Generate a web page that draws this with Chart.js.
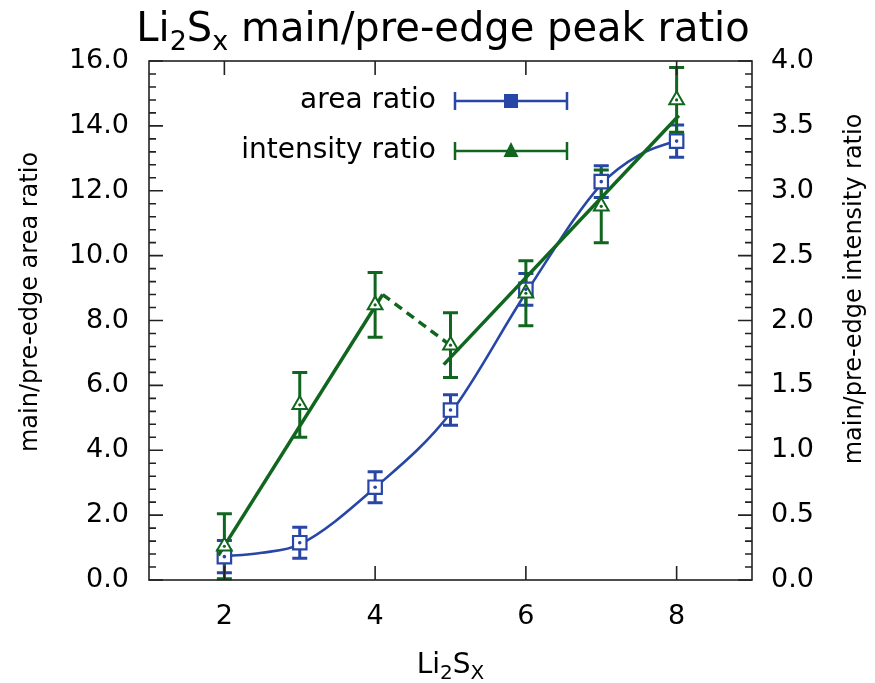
<!DOCTYPE html>
<html>
<head>
<meta charset="utf-8">
<script src="https://cdn.jsdelivr.net/npm/chart.js@4.4.1/dist/chart.umd.min.js"></script>
<style>
html, body { margin: 0; padding: 0; background: #fff; }
#wrap { width: 875px; height: 683px; }
</style>
</head>
<body>
<div id="wrap"><canvas id="ratioChart" width="875" height="683"></canvas></div>
<script>
// measured points, x = sulfur count in Li2Sx
const sulfurX = [2, 3, 4, 5, 6, 7, 8];
const areaRatio = [0.72, 1.15, 2.86, 5.24, 8.96, 12.28, 13.53];
const areaErr = [0.50, 0.48, 0.48, 0.47, 0.49, 0.49, 0.50];
const intensityRatio = [0.26, 1.35, 2.12, 1.81, 2.21, 2.88, 3.70];
const intensityErr = [0.25, 0.25, 0.25, 0.25, 0.25, 0.28, 0.25];

// smooth guide through the area ratios
const areaCurveX = [1.92, 2.5, 3, 4, 5, 6, 7, 7.5, 8];
const areaCurveY = [0.72, 0.84, 1.1, 2.85, 5.15, 8.85, 12.2, 13.1, 13.55];

// linear fits of the intensity ratio (two branches + dashed link)
const fitLowX = [1.92, 4.1];
const fitLowY = [0.19, 2.2];
const fitLinkX = [4.1, 4.95];
const fitLinkY = [2.2, 1.83];
const fitHighX = [4.91, 8.03];
const fitHighY = [1.66, 3.58];

const xTicks = [2, 4, 6, 8];

const BLUE = '#2746a6';
const GREEN = '#11661f';
const FONT = '"DejaVu Sans", sans-serif';

const pts = (xs, ys) => xs.map((x, i) => ({ x: x, y: ys[i] }));

function drawRich(ctx, parts, x, y, size, subSize, align) {
  let w = 0;
  parts.forEach(p => {
    ctx.font = (p.sub ? subSize : size) + 'px ' + FONT;
    p.w = ctx.measureText(p.t).width;
    w += p.w;
  });
  let cx = align === 'center' ? x - w / 2 : x;
  ctx.textAlign = 'left';
  ctx.textBaseline = 'alphabetic';
  parts.forEach(p => {
    ctx.font = (p.sub ? subSize : size) + 'px ' + FONT;
    ctx.fillText(p.t, cx, p.sub ? y + size * 0.22 : y);
    cx += p.w;
  });
}

function drawBars(ctx, xs, ys, xv, yv, ev, color) {
  ctx.save();
  ctx.strokeStyle = color;
  ctx.lineWidth = 3;
  xv.forEach((v, i) => {
    const px = xs.getPixelForValue(v);
    const top = ys.getPixelForValue(yv[i] + ev[i]);
    const bot = ys.getPixelForValue(yv[i] - ev[i]);
    ctx.beginPath();
    ctx.moveTo(px, top); ctx.lineTo(px, bot);
    ctx.moveTo(px - 7.5, top); ctx.lineTo(px + 7.5, top);
    ctx.moveTo(px - 7.5, bot); ctx.lineTo(px + 7.5, bot);
    ctx.stroke();
  });
  ctx.restore();
}

const errorBars = {
  id: 'errorBars',
  beforeDatasetsDraw(chart) {
    const { ctx, scales } = chart;
    drawBars(ctx, scales.x, scales.y, sulfurX, areaRatio, areaErr, BLUE);
    drawBars(ctx, scales.x, scales.y2, sulfurX, intensityRatio, intensityErr, GREEN);
  },
  afterDatasetsDraw(chart) {
    const { ctx, scales } = chart;
    ctx.save();
    sulfurX.forEach((v, i) => {
      ctx.fillStyle = BLUE;
      ctx.beginPath();
      ctx.arc(scales.x.getPixelForValue(v), scales.y.getPixelForValue(areaRatio[i]), 1.8, 0, Math.PI * 2);
      ctx.fill();
      ctx.fillStyle = GREEN;
      ctx.beginPath();
      ctx.arc(scales.x.getPixelForValue(v), scales.y2.getPixelForValue(intensityRatio[i]), 1.6, 0, Math.PI * 2);
      ctx.fill();
    });
    ctx.restore();
  }
};

// frame with inward ticks, titles and the key
const decorations = {
  id: 'decorations',
  afterDraw(chart) {
    const { ctx, chartArea: a, scales } = chart;
    ctx.save();
    ctx.strokeStyle = '#222';
    ctx.lineWidth = 1.6;
    ctx.strokeRect(a.left, a.top, a.right - a.left, a.bottom - a.top);
    ctx.beginPath();
    for (let k = 0; k <= 40; k++) {
      const py = scales.y.getPixelForValue(k * 0.4);
      const len = k % 5 === 0 ? 14 : 7;
      ctx.moveTo(a.left, py); ctx.lineTo(a.left + len, py);
      ctx.moveTo(a.right, py); ctx.lineTo(a.right - len, py);
    }
    xTicks.forEach(v => {
      const px = scales.x.getPixelForValue(v);
      ctx.moveTo(px, a.bottom); ctx.lineTo(px, a.bottom - 14);
      ctx.moveTo(px, a.top); ctx.lineTo(px, a.top + 14);
    });
    ctx.stroke();

    ctx.fillStyle = '#000';
    drawRich(ctx, [{ t: 'Li' }, { t: '2', sub: true }, { t: 'S' }, { t: 'x', sub: true },
      { t: ' main/pre-edge peak ratio' }], 443, 41, 40, 27, 'center');
    drawRich(ctx, [{ t: 'Li' }, { t: '2', sub: true }, { t: 'S' }, { t: 'X', sub: true }],
      (a.left + a.right) / 2, 673, 28, 20, 'center');

    ctx.font = '24px ' + FONT;
    ctx.textAlign = 'center';
    ctx.textBaseline = 'middle';
    ctx.save();
    ctx.translate(31, 302);
    ctx.rotate(-Math.PI / 2);
    ctx.fillText('main/pre-edge area ratio', 0, 0);
    ctx.restore();
    ctx.save();
    ctx.translate(855, 289);
    ctx.rotate(-Math.PI / 2);
    ctx.fillText('main/pre-edge intensity ratio', 0, 0);
    ctx.restore();

    // key
    ctx.font = '28px ' + FONT;
    ctx.textAlign = 'right';
    ctx.fillText('area ratio', 436, 101);
    ctx.fillText('intensity ratio', 436, 151);
    [[101, BLUE], [151, GREEN]].forEach(([ky, col], j) => {
      ctx.strokeStyle = col;
      ctx.lineWidth = 2.5;
      ctx.beginPath();
      ctx.moveTo(455, ky); ctx.lineTo(567, ky);
      ctx.moveTo(455, ky - 9); ctx.lineTo(455, ky + 9);
      ctx.moveTo(567, ky - 9); ctx.lineTo(567, ky + 9);
      ctx.stroke();
      ctx.fillStyle = col;
      ctx.beginPath();
      if (j === 0) {
        ctx.rect(504, ky - 7, 14, 14);
      } else {
        ctx.moveTo(511, ky - 9); ctx.lineTo(518.5, ky + 6); ctx.lineTo(503.5, ky + 6); ctx.closePath();
      }
      ctx.fill();
    });
    ctx.restore();
  }
};

const tickFont = { family: FONT, size: 27 };

new Chart(document.getElementById('ratioChart'), {
  type: 'scatter',
  data: {
    datasets: [
      {
        label: 'intensity ratio',
        data: pts(sulfurX, intensityRatio),
        yAxisID: 'y2',
        pointStyle: 'triangle',
        pointRadius: 8.5,
        pointBorderWidth: 2,
        pointBackgroundColor: '#fff',
        pointBorderColor: GREEN,
        order: 0
      },
      {
        label: 'intensity fit low',
        data: pts(fitLowX, fitLowY),
        yAxisID: 'y2',
        showLine: true,
        pointRadius: 0,
        borderColor: GREEN,
        borderWidth: 3.5,
        order: 1
      },
      {
        label: 'intensity fit link',
        data: pts(fitLinkX, fitLinkY),
        yAxisID: 'y2',
        showLine: true,
        pointRadius: 0,
        borderColor: GREEN,
        borderWidth: 3.5,
        borderDash: [9, 6],
        order: 1
      },
      {
        label: 'intensity fit high',
        data: pts(fitHighX, fitHighY),
        yAxisID: 'y2',
        showLine: true,
        pointRadius: 0,
        borderColor: GREEN,
        borderWidth: 3.5,
        order: 1
      },
      {
        label: 'area ratio',
        data: pts(sulfurX, areaRatio),
        yAxisID: 'y',
        pointStyle: 'rect',
        pointRadius: 9.5,
        pointBorderWidth: 2.2,
        pointBackgroundColor: '#fff',
        pointBorderColor: BLUE,
        order: 2
      },
      {
        label: 'area curve',
        data: pts(areaCurveX, areaCurveY),
        yAxisID: 'y',
        showLine: true,
        pointRadius: 0,
        borderColor: BLUE,
        borderWidth: 2.6,
        cubicInterpolationMode: 'monotone',
        order: 3
      }
    ]
  },
  options: {
    responsive: false,
    animation: false,
    layout: { padding: { top: 61, left: 0, right: 0, bottom: 0 } },
    plugins: { legend: { display: false }, tooltip: { enabled: false }, title: { display: false } },
    scales: {
      x: {
        type: 'linear',
        position: 'bottom',
        min: 1,
        max: 9,
        grid: { display: false, drawTicks: false },
        border: { display: false },
        ticks: { font: tickFont, color: '#000', padding: 21 },
        afterBuildTicks: s => { s.ticks = xTicks.map(v => ({ value: v })); },
        afterFit: s => { s.height = 103; }
      },
      y: {
        position: 'left',
        min: 0,
        max: 16,
        grid: { display: false, drawTicks: false },
        border: { display: false },
        ticks: { font: tickFont, color: '#000', padding: 20, stepSize: 2, callback: v => v.toFixed(1) },
        afterFit: s => { s.width = 149; }
      },
      y2: {
        position: 'right',
        min: 0,
        max: 4,
        grid: { display: false, drawTicks: false },
        border: { display: false },
        ticks: { font: tickFont, color: '#000', padding: 19, stepSize: 0.5, callback: v => v.toFixed(1) },
        afterFit: s => { s.width = 123; }
      }
    }
  },
  plugins: [errorBars, decorations]
});
</script>
</body>
</html>
